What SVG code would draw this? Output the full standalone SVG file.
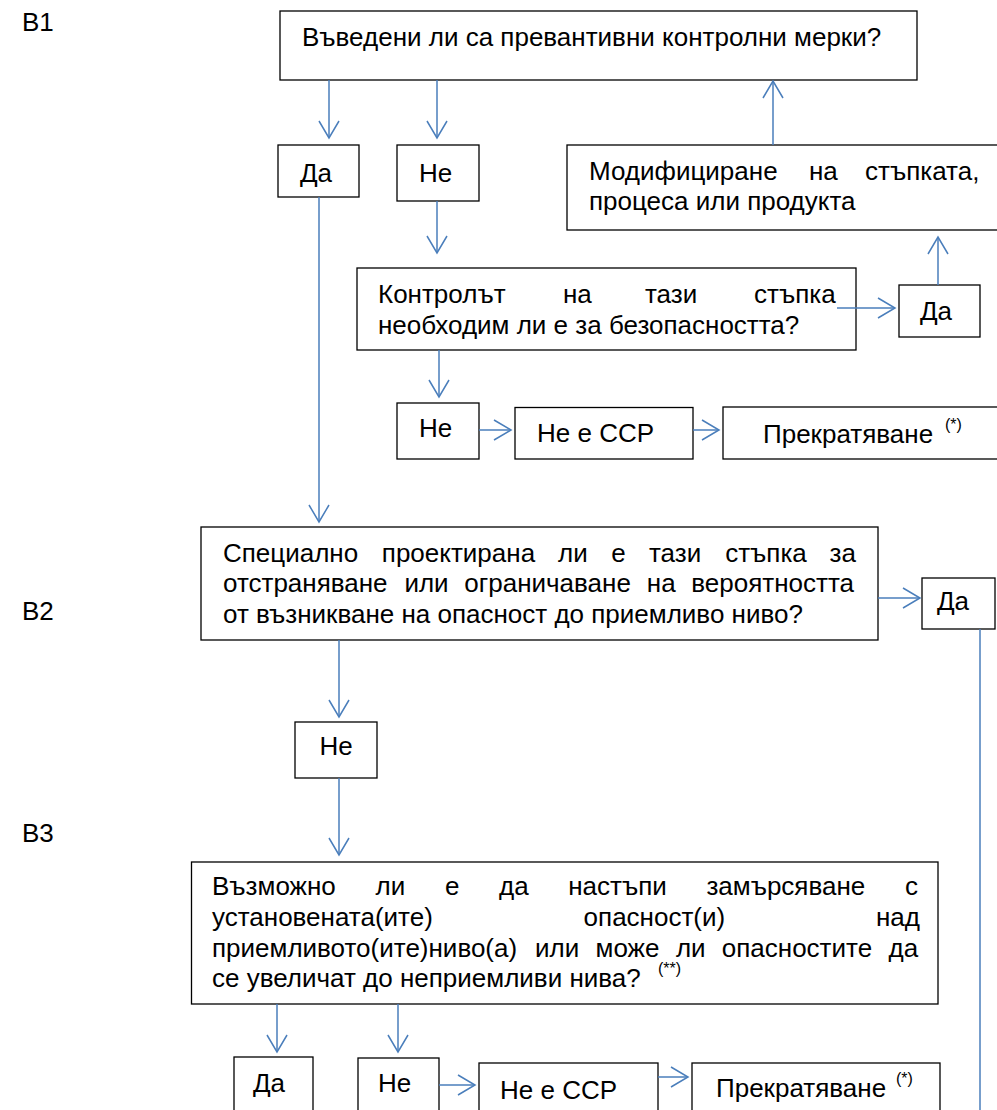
<svg xmlns="http://www.w3.org/2000/svg" width="997" height="1110" viewBox="0 0 997 1110">
<style>
.box{fill:#fff;stroke:#000;stroke-width:1.3}
.t{font-family:"Liberation Sans",Arial,sans-serif;font-size:26px;fill:#000}
.sup{font-family:"Liberation Sans",Arial,sans-serif;font-size:16px;fill:#000}
.c{stroke:#4A7EBB;stroke-width:1.5;fill:none;marker-end:url(#ah)}
.l{stroke:#4A7EBB;stroke-width:1.5;fill:none}
</style>
<defs>
<marker id="ah" markerUnits="userSpaceOnUse" markerWidth="20" markerHeight="24" refX="17" refY="11" orient="auto" overflow="visible">
<path d="M0,1 L17,11 L0,21" fill="none" stroke="#4A7EBB" stroke-width="1.5"/>
</marker>
</defs>
<rect width="997" height="1110" fill="#fff"/>
<g id="labels">
<text class="t" x="22" y="31">В1</text>
<text class="t" x="22" y="620">В2</text>
<text class="t" x="22" y="842">В3</text>
</g>
<g id="n_top"><rect class="box" x="280" y="11" width="637" height="69"/>
<text class="t" x="302" y="46">Въведени ли са превантивни контролни мерки?</text></g>
<g id="n_da1"><rect class="box" x="278" y="145" width="81" height="52"/><text class="t" x="300" y="182">Да</text></g>
<g id="n_ne1"><rect class="box" x="397" y="145" width="82" height="56"/><text class="t" x="419" y="182">Не</text></g>
<g id="n_modify"><rect class="box" x="567" y="145" width="440" height="85"/>
<text class="t" y="180"><tspan x="589">Модифициране</tspan><tspan x="809">на</tspan><tspan x="865">стъпката,</tspan></text>
<text class="t" x="589" y="210">процеса или продукта</text></g>
<g id="n_control"><rect class="box" x="357" y="268" width="499" height="82"/>
<text class="t" y="303"><tspan x="378">Контролът</tspan><tspan x="563">на</tspan><tspan x="645">тази</tspan><tspan x="754">стъпка</tspan></text>
<text class="t" x="378" y="334">необходим ли е за безопасността?</text></g>
<g id="n_da2"><rect class="box" x="899" y="285" width="81" height="52"/><text class="t" x="920" y="320">Да</text></g>
<g id="n_ne2"><rect class="box" x="397" y="403" width="82" height="56"/><text class="t" x="419" y="437">Не</text></g>
<g id="n_notccp1"><rect class="box" x="515" y="407.5" width="178" height="51.5"/><text class="t" x="537" y="442">Не е CCP</text></g>
<g id="n_stop1"><rect class="box" x="723" y="407" width="290" height="52"/><text class="t" x="763" y="443">Прекратяване</text><text class="sup" x="945" y="430">(*)</text></g>
<g id="n_q2"><rect class="box" x="201" y="527" width="677" height="113"/>
<text class="t" y="561.5"><tspan x="223">Специално</tspan><tspan x="381.8">проектирана</tspan><tspan x="558.1">ли</tspan><tspan x="611.2">е</tspan><tspan x="649">тази</tspan><tspan x="725.2">стъпка</tspan><tspan x="829.6">за</tspan></text>
<text class="t" y="592.3"><tspan x="223">отстраняване</tspan><tspan x="404.4">или</tspan><tspan x="464.3">ограничаване</tspan><tspan x="646.8">на</tspan><tspan x="691.3">вероятността</tspan></text>
<text class="t" x="223" y="623">от възникване на опасност до приемливо ниво?</text></g>
<g id="n_da3"><rect class="box" x="922" y="578" width="73" height="51"/><text class="t" x="937" y="610">Да</text></g>
<g id="n_ne3"><rect class="box" x="295" y="722" width="82" height="56"/><text class="t" x="319.5" y="755">Не</text></g>
<g id="n_q3"><rect class="box" x="191.5" y="862" width="746.5" height="142"/>
<text class="t" y="895"><tspan x="212">Възможно</tspan><tspan x="375.6">ли</tspan><tspan x="444.9">е</tspan><tspan x="499">да</tspan><tspan x="568.2">настъпи</tspan><tspan x="706.4">замърсяване</tspan><tspan x="905.1">с</tspan></text>
<text class="t" y="925.8"><tspan x="212">установената(ите)</tspan><tspan x="583.6">опасност(и)</tspan><tspan x="876">над</tspan></text>
<text class="t" y="956.6"><tspan x="212">приемливото(ите)ниво(а)</tspan><tspan x="535.1">или</tspan><tspan x="595.5">може</tspan><tspan x="675.9">ли</tspan><tspan x="721.8">опасностите</tspan><tspan x="888.6">да</tspan></text>
<text class="t" x="212" y="987.4">се увеличат до неприемливи нива?</text><text class="sup" x="658" y="974">(**)</text></g>
<g id="n_da4"><rect class="box" x="234" y="1057" width="79" height="80"/><text class="t" x="253" y="1092">Да</text></g>
<g id="n_ne4"><rect class="box" x="358" y="1058" width="81" height="80"/><text class="t" x="378" y="1092">Не</text></g>
<g id="n_notccp2"><rect class="box" x="479" y="1063" width="179" height="80"/><text class="t" x="500" y="1099">Не е CCP</text></g>
<g id="n_stop2"><rect class="box" x="692" y="1063" width="248" height="80"/><text class="t" x="716" y="1097">Прекратяване</text><text class="sup" x="896" y="1084">(*)</text></g>
<g id="connectors">
<line class="c" x1="329" y1="80" x2="329" y2="138"/>
<line class="c" x1="437" y1="80" x2="437" y2="138"/>
<line class="c" x1="319" y1="197" x2="319" y2="522"/>
<line class="c" x1="437" y1="201" x2="437" y2="253"/>
<line class="c" x1="837" y1="308" x2="895" y2="308"/>
<line class="c" x1="938" y1="285" x2="938" y2="237"/>
<line class="c" x1="773" y1="145" x2="773" y2="81"/>
<line class="c" x1="439" y1="350" x2="439" y2="397"/>
<line class="c" x1="479" y1="430" x2="511" y2="430"/>
<line class="c" x1="693" y1="430" x2="719" y2="430"/>
<line class="c" x1="878" y1="598" x2="920" y2="598"/>
<line class="l" x1="980" y1="629" x2="980" y2="1110"/>
<line class="c" x1="339" y1="640" x2="339" y2="717"/>
<line class="c" x1="339" y1="778" x2="339" y2="855"/>
<line class="c" x1="277" y1="1004" x2="277" y2="1052"/>
<line class="c" x1="398" y1="1004" x2="398" y2="1052"/>
<line class="c" x1="439" y1="1085" x2="475" y2="1085"/>
<line class="c" x1="658" y1="1077" x2="688" y2="1077"/>
</g>
</svg>
